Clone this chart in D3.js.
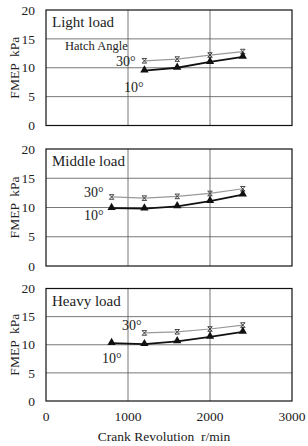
<!DOCTYPE html>
<html>
<head>
<meta charset="utf-8">
<script src="https://cdn.jsdelivr.net/npm/d3@7"></script>
<style>
body { margin:0; background:#fff; }
svg text { font-family: 'Liberation Serif', 'DejaVu Serif', serif; fill:#222; }
</style>
</head>
<body>
<div id="chart"></div>
<script>
// data
var panelNames = ["Light load", "Middle load", "Heavy load"];
var rpm = [800, 1200, 1600, 2000, 2400];
// null = no point at that speed
var light10 = [null, 9.5, 10.0, 11.0, 11.9];
var light30 = [null, 11.2, 11.5, 12.2, 12.8];
var middle10 = [9.9, 9.8, 10.2, 11.1, 12.2];
var middle30 = [11.8, 11.6, 11.9, 12.4, 13.2];
var heavy10 = [10.3, 10.1, 10.6, 11.4, 12.3];
var heavy30 = [null, 12.1, 12.3, 12.8, 13.5];
var xTicks = [0, 1000, 2000, 3000];
var yTicks = [0, 5, 10, 15, 20];

var svgWidth = 308, svgHeight = 446;
var svg = d3.select("#chart").append("svg").attr("width", svgWidth).attr("height", svgHeight)
    .attr("font-family", "'Liberation Serif', serif");

var x = d3.scaleLinear().domain([0, 3000]).range([46, 292]);

// top / bottom of each plot area
var panels = [
    {name: panelNames[0], top: 10, bottom: 125.5, s10: light10, s30: light30,
     labels: [{t: "Hatch Angle", x: 65, y: 50, size: 12.5}, {t: "30°", x: 116, y: 65.5}, {t: "10°", x: 124, y: 92}]},
    {name: panelNames[1], top: 149, bottom: 266, s10: middle10, s30: middle30,
     labels: [{t: "30°", x: 84, y: 197}, {t: "10°", x: 84, y: 219.5}]},
    {name: panelNames[2], top: 288.5, bottom: 401, s10: heavy10, s30: heavy30,
     labels: [{t: "30°", x: 122, y: 329.5}, {t: "10°", x: 102, y: 363}]}
];

function pts(vals) {
    return rpm.map(function(r, i) { return {r: r, v: vals[i]}; }).filter(function(d) { return d.v !== null; });
}

panels.forEach(function(p) {
    var y = d3.scaleLinear().domain([0, 20]).range([p.bottom, p.top]);
    var g = svg.append("g");

    // grid
    g.selectAll(".hg").data([5, 10, 15]).enter().append("line")
        .attr("x1", x(0)).attr("x2", x(3000))
        .attr("y1", d => y(d)).attr("y2", d => y(d))
        .attr("stroke", "#555").attr("stroke-width", 0.8);
    g.selectAll(".vg").data([1000, 2000]).enter().append("line")
        .attr("x1", d => x(d)).attr("x2", d => x(d))
        .attr("y1", y(0)).attr("y2", y(20))
        .attr("stroke", "#555").attr("stroke-width", 0.8);

    // frame
    g.append("rect")
        .attr("x", x(0)).attr("y", y(20))
        .attr("width", x(3000) - x(0)).attr("height", y(0) - y(20))
        .attr("fill", "none").attr("stroke", "#111").attr("stroke-width", 1.2);

    // y tick labels
    g.selectAll(".yt").data(yTicks).enter().append("text")
        .attr("x", 35).attr("y", d => y(d)).attr("dy", "0.35em")
        .attr("text-anchor", "end").style("font-size", "13.5px")
        .text(d => d);

    // y title
    g.append("text")
        .attr("transform", "translate(14," + ((p.top + p.bottom) / 2) + ") rotate(-90)")
        .attr("text-anchor", "middle").attr("dy", "0.35em").style("font-size", "13.5px")
        .attr("xml:space", "preserve")
        .text("FMEP  kPa");

    var line = d3.line().x(d => x(d.r)).y(d => y(d.v));

    // 30 deg series, grey with star marks
    var d30 = pts(p.s30);
    g.append("path").datum(d30).attr("d", line)
        .attr("fill", "none").attr("stroke", "#999").attr("stroke-width", 1.2);
    d30.forEach(function(d) {
        var cx = x(d.r), cy = y(d.v), k = 2.3;
        g.append("path")
            .attr("d", "M" + (cx - k) + "," + (cy - k) + "L" + (cx + k) + "," + (cy + k) +
                "M" + (cx - k) + "," + (cy + k) + "L" + (cx + k) + "," + (cy - k) +
                "M" + (cx - k) + "," + (cy - k) + "L" + (cx + k) + "," + (cy - k) +
                "M" + (cx - k) + "," + (cy + k) + "L" + (cx + k) + "," + (cy + k))
            .attr("stroke", "#333").attr("stroke-width", 0.9);
    });

    // 10 deg series, black with triangles
    var d10 = pts(p.s10);
    g.append("path").datum(d10).attr("d", line)
        .attr("fill", "none").attr("stroke", "#111").attr("stroke-width", 1.8);
    g.selectAll(".tri").data(d10).enter().append("path")
        .attr("d", d3.symbol().type(d3.symbolTriangle).size(30))
        .attr("transform", d => "translate(" + x(d.r) + "," + (y(d.v) - 0.5) + ")")
        .attr("fill", "#111");

    // panel name
    g.append("text").attr("x", 52).attr("y", p.top + 17)
        .style("font-size", "15px").text(p.name);

    p.labels.forEach(function(l) {
        g.append("text").attr("x", l.x).attr("y", l.y)
            .style("font-size", (l.size || 14) + "px").text(l.t);
    });
});

// x tick labels
svg.selectAll(".xt").data(xTicks).enter().append("text")
    .attr("x", d => x(d)).attr("y", 421)
    .attr("text-anchor", "middle").style("font-size", "13.5px")
    .text(d => d);

svg.append("text").attr("x", 164).attr("y", 441)
    .attr("text-anchor", "middle").style("font-size", "13.5px")
    .attr("xml:space", "preserve")
    .text("Crank Revolution  r/min");
</script>
</body>
</html>
